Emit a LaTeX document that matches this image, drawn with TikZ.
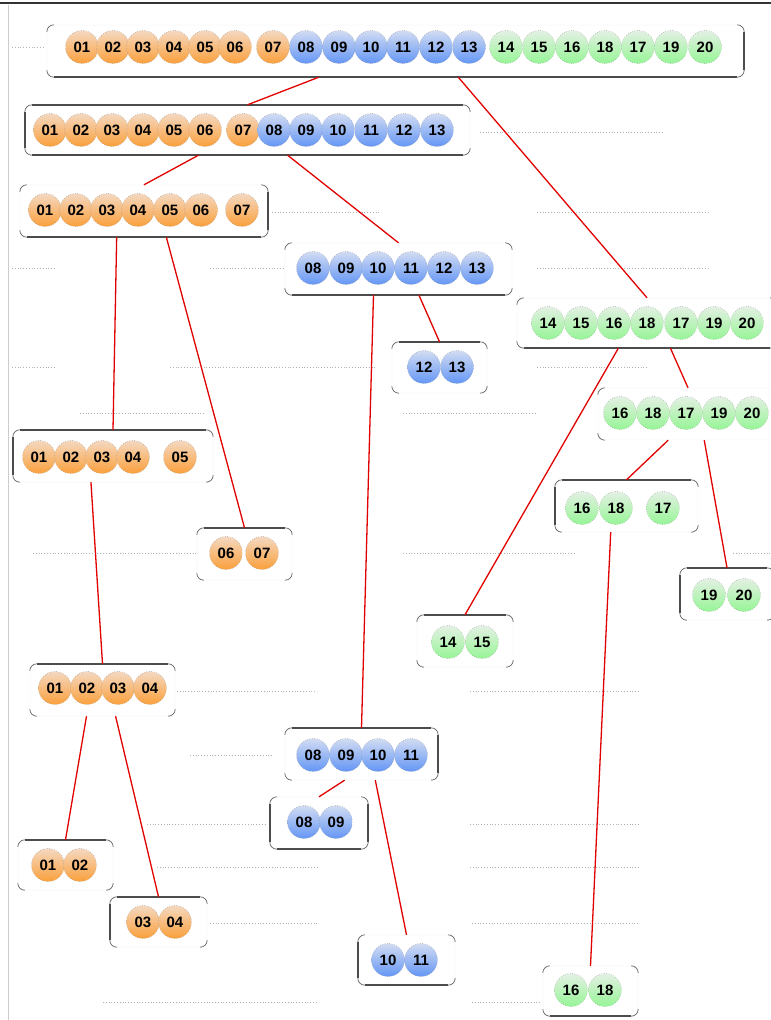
\documentclass[tikz,border=0pt]{standalone}
\usepackage{fontspec}
\setsansfont{Liberation Sans}
\usetikzlibrary{calc}

\definecolor{orngtop}{RGB}{244,216,192}
\definecolor{orngbot}{RGB}{250,160,60}
\definecolor{blutop}{RGB}{210,220,242}
\definecolor{blubot}{RGB}{100,150,245}
\definecolor{grntop}{RGB}{228,240,228}
\definecolor{grnbot}{RGB}{150,245,150}
\definecolor{cutred}{RGB}{225,0,0}

\tikzstyle{ball} = [circle, draw=black!55, dotted, inner sep=0pt, minimum size=33pt, font=\sffamily\bfseries\fontsize{15}{15}\selectfont]
\tikzstyle{orng} = [ball, top color=orngtop, bottom color=orngbot]
\tikzstyle{blu} = [ball, top color=blutop, bottom color=blubot]
\tikzstyle{grn} = [ball, top color=grntop, bottom color=grnbot]
\tikzstyle{grp} = [rectangle, draw=black!7, fill=white, rounded corners=7pt, inner sep=0pt]
\tikzstyle{rim} = [draw=black!70, line width=1.5pt]
\tikzstyle{tick} = [draw=black!60, line width=0.7pt]
\tikzstyle{guide} = [draw=black!30, dotted, line width=0.8pt]
\tikzstyle{cut} = [draw=cutred, line width=1.3pt]

\begin{document}
\begin{tikzpicture}[x=1pt, y=-1pt]
    \useasboundingbox (0,0) rectangle (771,1020);
    \clip (0,0) rectangle (771,1020);
    % Page edges
    \draw [black!80, line width=2.5pt] (0,3) -- (771,3);
    \draw [black!20, line width=1pt] (8,5) -- (8,1020);

    % Level guides
    \foreach \y/\a/\b in {47/12/45, 132/480/663, 212/272/380, 212/537/710,
        268/12/55, 268/210/283, 268/537/710, 367/12/55, 367/170/375, 367/537/647,
        413/80/205, 413/403/535, 553/33/197, 553/403/575, 553/733/771,
        691/177/317, 691/470/640, 755/190/272, 824/147/267, 824/470/640,
        867/157/317, 867/470/640, 923/210/317, 923/472/640, 1002/103/317, 1002/472/542}
        \draw [guide] (\a,\y) -- (\b,\y);

    % Place groups
    \node [grp, minimum width=697pt, minimum height=52pt] (g1) at (395.5,51) {};
    \node [grp, minimum width=445pt, minimum height=50pt] (g2) at (247.5,130) {};
    \node [grp, minimum width=248pt, minimum height=52pt] (g3) at (144,211) {};
    \node [grp, minimum width=227pt, minimum height=52pt] (g4) at (398.5,269) {};
    \node [grp, minimum width=260pt, minimum height=50pt] (g5) at (647,323) {};
    \node [grp, minimum width=95pt, minimum height=51pt] (g6) at (439.5,367.5) {};
    \node [grp, minimum width=180pt, minimum height=52pt] (g7) at (688,414) {};
    \node [grp, minimum width=200pt, minimum height=52pt] (g8) at (113,456) {};
    \node [grp, minimum width=95pt, minimum height=52pt] (g9) at (244.5,554) {};
    \node [grp, minimum width=143pt, minimum height=52pt] (g10) at (626.5,506) {};
    \node [grp, minimum width=94pt, minimum height=52pt] (g11) at (727,594) {};
    \node [grp, minimum width=96pt, minimum height=52pt] (g12) at (465,641) {};
    \node [grp, minimum width=145pt, minimum height=52pt] (g13) at (102.5,690) {};
    \node [grp, minimum width=153pt, minimum height=52pt] (g14) at (361.5,754) {};
    \node [grp, minimum width=98pt, minimum height=52pt] (g15) at (319,823) {};
    \node [grp, minimum width=95pt, minimum height=50pt] (g16) at (65.5,865) {};
    \node [grp, minimum width=97pt, minimum height=50pt] (g17) at (158.5,922) {};
    \node [grp, minimum width=97pt, minimum height=50pt] (g18) at (406.5,960) {};
    \node [grp, minimum width=95pt, minimum height=50pt] (g19) at (590.5,991) {};

    % Rims and corners
    \foreach \g in {g2,g6,g8,g9,g10,g11,g12,g13,g14,g16,g17}
        \draw [rim] ([xshift=7pt]\g.north west) -- ([xshift=-7pt]\g.north east);
    \foreach \g in {g1,g2,g3,g4,g5,g15,g18,g19}
        \draw [rim] ([xshift=7pt]\g.south west) -- ([xshift=-7pt]\g.south east);
    \foreach \g in {g2,g8,g10,g11,g15,g17,g18}
        \draw [rim] ([yshift=-7pt]\g.north west) -- ([yshift=7pt]\g.south west);
    \foreach \g in {g1,g3,g14,g15}
        \draw [rim] ([yshift=-7pt]\g.north east) -- ([yshift=7pt]\g.south east);
    \foreach \n in {1,...,19} {
        \draw [tick] ([yshift=-7pt]g\n.north west) arc[start angle=180, end angle=90, radius=7pt];
        \draw [tick] ([xshift=-7pt]g\n.north east) arc[start angle=90, end angle=0, radius=7pt];
        \draw [tick] ([yshift=7pt]g\n.south east) arc[start angle=0, end angle=-90, radius=7pt];
        \draw [tick] ([xshift=7pt]g\n.south west) arc[start angle=270, end angle=180, radius=7pt];
    }

    % Place balls
    \foreach \x/\t in {82/01, 113/02, 143/03, 174/04, 205/05, 235/06, 273/07}
        \node [orng] (g1-\t) at (\x,47) {\t};
    \foreach \x/\t in {306/08, 339/09, 371/10, 403/11, 436/12, 469/13}
        \node [blu] (g1-\t) at (\x,47) {\t};
    \foreach \x/\t in {506/14, 539/15, 572/16, 605/18, 638/17, 671/19, 705/20}
        \node [grn] (g1-\t) at (\x,47) {\t};

    \foreach \x/\t in {50/01, 81/02, 112/03, 143/04, 174/05, 205/06, 243/07}
        \node [orng] (g2-\t) at (\x,130) {\t};
    \foreach \x/\t in {274/08, 306/09, 338/10, 371/11, 404/12, 437/13}
        \node [blu] (g2-\t) at (\x,130) {\t};

    \foreach \x/\t in {45/01, 76/02, 107/03, 138/04, 170/05, 201/06, 242/07}
        \node [orng] (g3-\t) at (\x,210) {\t};
    \foreach \x/\t in {313/08, 346/09, 378/10, 411/11, 444/12, 477/13}
        \node [blu] (g4-\t) at (\x,268) {\t};
    \foreach \x/\t in {548/14, 581/15, 614/16, 647/18, 681/17, 714/19, 747/20}
        \node [grn] (g5-\t) at (\x,323) {\t};
    \foreach \x/\t in {424/12, 457/13}
        \node [blu] (g6-\t) at (\x,367) {\t};
    \foreach \x/\t in {620/16, 653/18, 686/17, 719/19, 752/20}
        \node [grn] (g7-\t) at (\x,413) {\t};
    \foreach \x/\t in {39/01, 71/02, 102/03, 133/04, 180/05}
        \node [orng] (g8-\t) at (\x,457) {\t};
    \foreach \x/\t in {226/06, 262/07}
        \node [orng] (g9-\t) at (\x,553) {\t};
    \foreach \x/\t in {582/16, 616/18, 663/17}
        \node [grn] (g10-\t) at (\x,508) {\t};
    \foreach \x/\t in {709/19, 744/20}
        \node [grn] (g11-\t) at (\x,595) {\t};
    \foreach \x/\t in {448/14, 482/15}
        \node [grn] (g12-\t) at (\x,642) {\t};
    \foreach \x/\t in {55/01, 87/02, 118/03, 150/04}
        \node [orng] (g13-\t) at (\x,688) {\t};
    \foreach \x/\t in {313/08, 346/09, 378/10, 411/11}
        \node [blu] (g14-\t) at (\x,755) {\t};
    \foreach \x/\t in {304/08, 336/09}
        \node [blu] (g15-\t) at (\x,822) {\t};
    \foreach \x/\t in {48/01, 80/02}
        \node [orng] (g16-\t) at (\x,865) {\t};
    \foreach \x/\t in {143/03, 175/04}
        \node [orng] (g17-\t) at (\x,922) {\t};
    \foreach \x/\t in {388/10, 421/11}
        \node [blu] (g18-\t) at (\x,960) {\t};
    \foreach \x/\t in {571/16, 605/18}
        \node [grn] (g19-\t) at (\x,990) {\t};

    % Draw edges
    \foreach \p/\c in {g1/g2, g2/g3, g3/g8, g4/g14, g5/g12, g7/g10, g8/g13, g10/g19, g13/g16, g14/g15}
        \path [cut] ($(\p.south west)!0.39!(\p.south east)$) -- (\c.north);
    \foreach \p/\c in {g1/g5, g2/g4, g3/g9, g4/g6, g5/g7, g7/g11, g13/g17, g14/g18}
        \path [cut] ($(\p.south west)!0.59!(\p.south east)$) -- (\c.north);

\end{tikzpicture}
\end{document}
